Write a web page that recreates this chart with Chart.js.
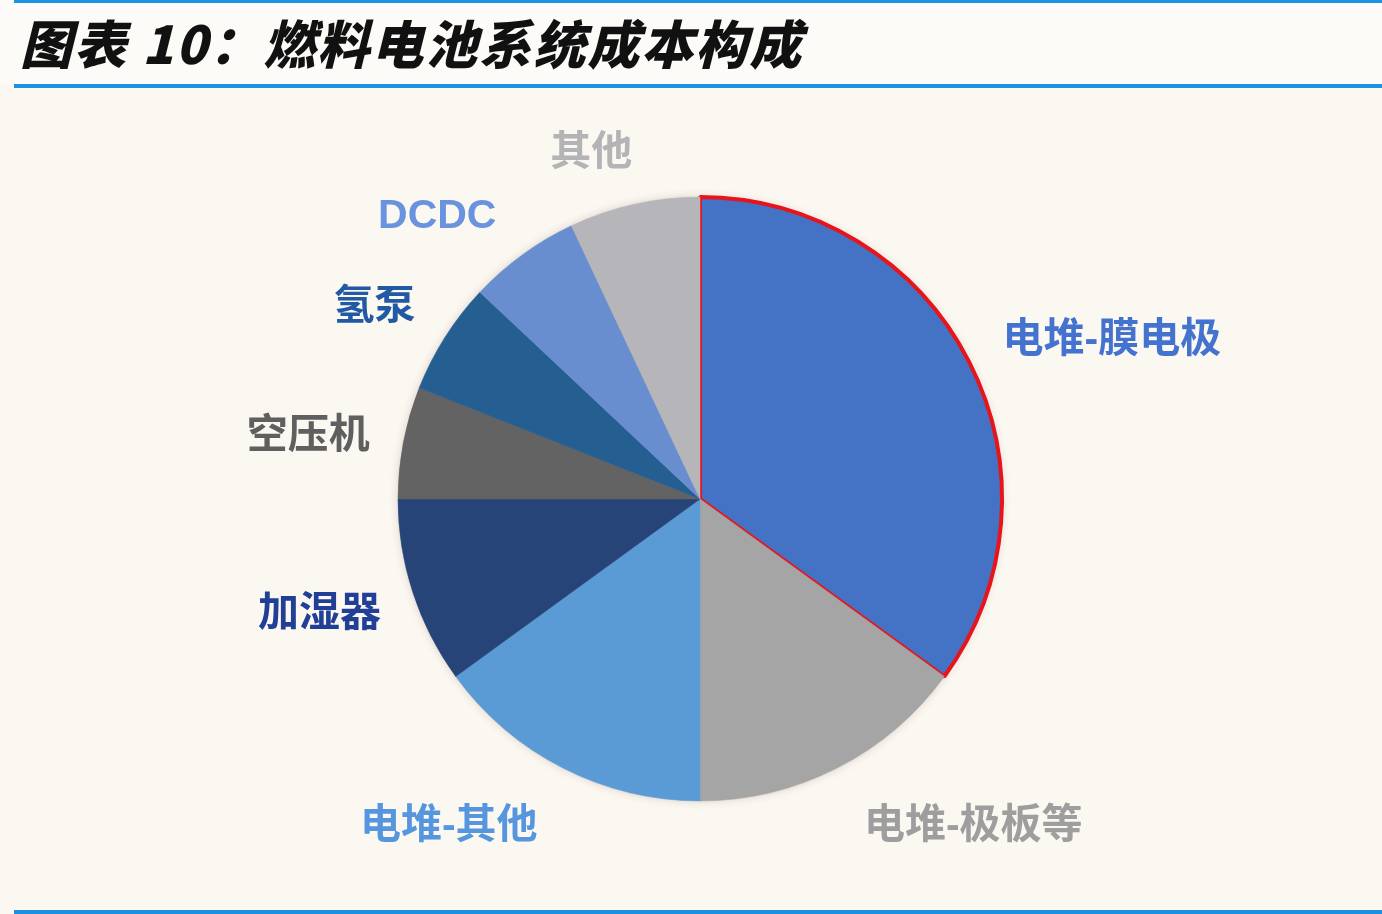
<!DOCTYPE html>
<html>
<head>
<meta charset="utf-8">
<script src="https://cdn.jsdelivr.net/npm/chart.js@4"></script>
<style>
  html, body { margin: 0; padding: 0; }
  body { width: 1382px; height: 914px; background: #fbf7f1; position: relative; overflow: hidden; }
  .head { position: absolute; left: 0; top: 0; width: 1382px; height: 84px; background: #fdfbf8; }
  .topline { position: absolute; left: 14px; right: 0; top: 0; height: 3px; background: #1b93e0; }
  .midline { position: absolute; left: 14px; right: 0; top: 84px; height: 4px; background: #1e90e0; }
  .botline { position: absolute; left: 14px; right: 0; top: 910px; height: 4px; background: #1e90e0; }
  .title { position: absolute; left: 20px; top: 6px; font-family: "Noto Sans CJK SC", sans-serif; font-weight: 900;
           font-style: italic; font-size: 52px; line-height: 72px; color: #111; letter-spacing: 2px; }
  #wrap { position: absolute; left: 0; top: 0; width: 1382px; height: 914px; }
</style>
</head>
<body>
<div class="head"></div>
<div class="topline"></div>
<div class="title">图表 10：燃料电池系统成本构成</div>
<div class="midline"></div>
<div class="botline"></div>
<div id="wrap"><canvas id="pie"></canvas></div>
<script>
// cost share, %
const labels = ['电堆-膜电极', '电堆-极板等', '电堆-其他', '加湿器', '空压机', '氢泵', 'DCDC', '其他'];
const values = [35, 15, 15, 10, 6, 6, 6, 7];

const sliceColors = ['#4472c4', '#a5a5a5', '#5b9bd5', '#264478', '#636363', '#255e91', '#698ed0', '#b6b5b9'];
const labelColors = ['#4472cf', '#9e9e9e', '#5596de', '#213f96', '#5f5f5f', '#2259a5', '#6a93df', '#b4b4b6'];
// small hand moves of the labels, like in the original sheet
const labelNudge = [[62, 20], [95, -22], [-73, -22], [-7, -6], [-6, 11], [6, 19], [-32, 35], [-23, 38]];

const shadowPlugin = {
	id: 'pieShadow',
	beforeDatasetsDraw(chart) {
		const arc = chart.getDatasetMeta(0).data[0];
		if (!arc) return;
		const ctx = chart.ctx;
		ctx.save();
		ctx.shadowColor = 'rgba(90,60,30,0.25)';
		ctx.shadowBlur = 10;
		ctx.fillStyle = '#b0b0b0';
		ctx.beginPath();
		ctx.arc(arc.x, arc.y, arc.outerRadius - 1, 0, Math.PI * 2);
		ctx.fill();
		ctx.restore();
	}
};

const labelPlugin = {
	id: 'outLabels',
	afterDatasetsDraw(chart) {
		const ctx = chart.ctx;
		const meta = chart.getDatasetMeta(0);
		ctx.save();
		ctx.font = "bold 41px 'Liberation Sans', 'Noto Sans CJK SC', sans-serif";
		ctx.textAlign = 'center';
		ctx.textBaseline = 'middle';
		meta.data.forEach(function(el, i) {
			const p = el.getProps(['x', 'y', 'startAngle', 'endAngle', 'outerRadius'], true);
			const mid = (p.startAngle + p.endAngle) / 2;
			const r = p.outerRadius * 1.3;
			const tx = p.x + Math.cos(mid) * r + labelNudge[i][0];
			const ty = p.y + Math.sin(mid) * r + labelNudge[i][1];
			ctx.fillStyle = labelColors[i];
			ctx.fillText(chart.data.labels[i], tx, ty);
		});
		ctx.restore();
	}
};

var pie = document.getElementById('pie').getContext('2d');
var fuelPie = new Chart(pie, {
	type: 'pie',
	data: {
		labels: labels,
		datasets: [{
			data: values,
			backgroundColor: sliceColors,
			borderColor: ['#e8141b', '#a5a5a5', '#5b9bd5', '#264478', '#636363', '#255e91', '#698ed0', '#b6b5b9'],
			borderWidth: [4, 0.5, 0.5, 0.5, 0.5, 0.5, 0.5, 0.5]
		}]
	},
	options: {
		responsive: true,
		maintainAspectRatio: false,
		animation: false,
		events: [],
		radius: 302,
		layout: { padding: { left: 18, right: 0, top: 84, bottom: 0 } },
		plugins: {
			legend: { display: false },
			tooltip: { enabled: false },
			title: { display: false }
		}
	},
	plugins: [shadowPlugin, labelPlugin]
});
</script>
</body>
</html>
